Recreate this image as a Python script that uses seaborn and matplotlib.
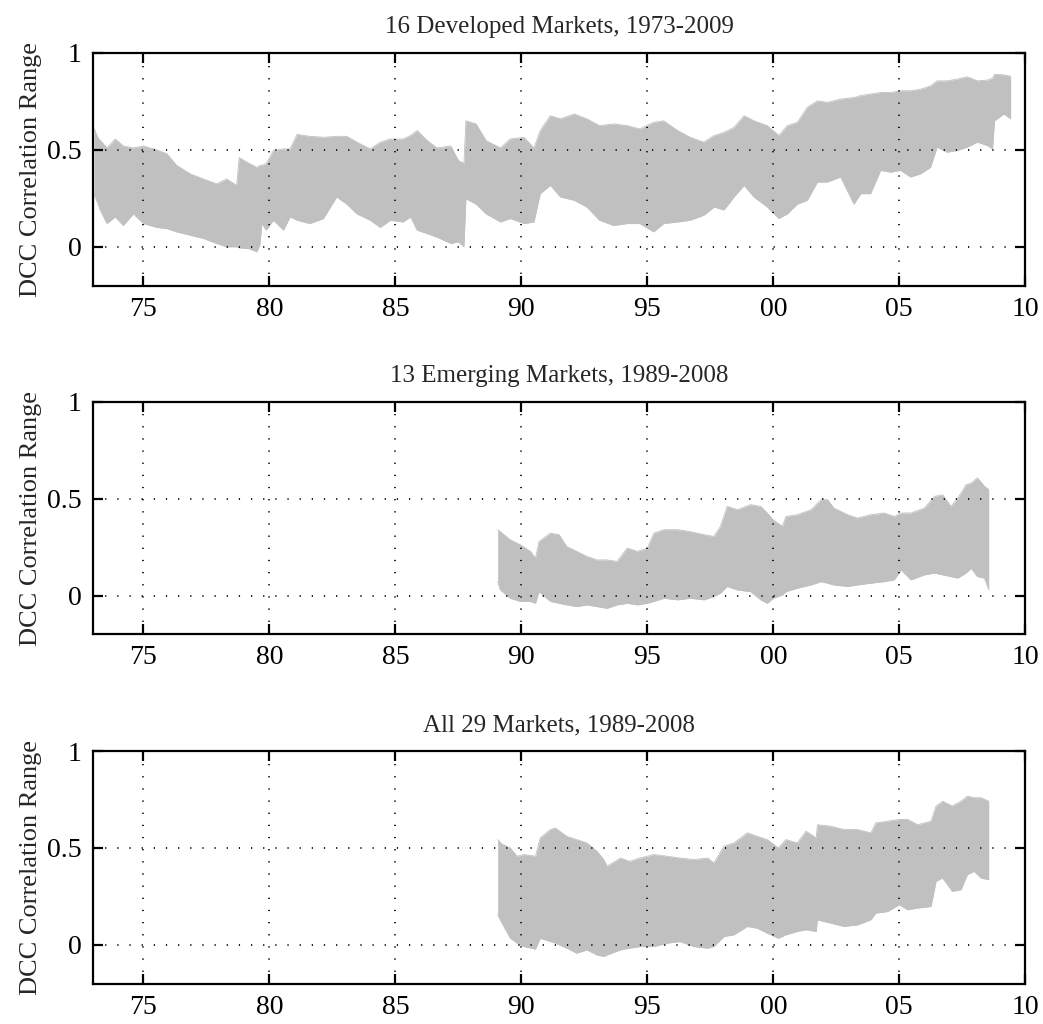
import numpy as np
import pandas as pd
import matplotlib
matplotlib.use("Agg")
import matplotlib.pyplot as plt
import seaborn as sns

# ---- data: upper / lower bounds of pairwise DCC correlations ----
dev_years = [1973.04, 1973.2, 1973.28, 1973.55, 1973.88, 1974.2, 1974.6, 1975.0, 1975.53, 1975.93,
             1976.32, 1976.85, 1977.38, 1977.91, 1978.3, 1978.7, 1978.8, 1979.2, 1979.5, 1979.62,
             1979.7, 1979.87, 1980.16, 1980.56, 1980.82, 1981.1, 1981.6, 1982.14, 1982.67, 1983.07,
             1983.47, 1984.0, 1984.4, 1984.8, 1985.3, 1985.6, 1985.86, 1986.26, 1986.65, 1987.2,
             1987.5, 1987.72, 1987.8, 1988.2, 1988.6, 1989.17, 1989.56, 1990.1, 1990.5, 1990.75,
             1991.15, 1991.55, 1992.1, 1992.6, 1993.1, 1993.66, 1994.2, 1994.7, 1995.25, 1995.65,
             1996.2, 1996.7, 1997.24, 1997.65, 1998.04, 1998.44, 1998.84, 1999.23, 1999.76, 2000.22,
             2000.56, 2000.95, 2001.35, 2001.75, 2002.14, 2002.67, 2003.2, 2003.47, 2003.86, 2004.26,
             2004.66, 2005.05, 2005.45, 2005.85, 2006.24, 2006.5, 2006.9, 2007.3, 2007.7, 2008.1,
             2008.5, 2008.7, 2008.78, 2009.15, 2009.42]
dev_upper = [0.61, 0.56, 0.55, 0.51, 0.556, 0.52, 0.51, 0.52, 0.50, 0.48,
             0.42, 0.377, 0.35, 0.325, 0.35, 0.317, 0.46, 0.43, 0.41, 0.42,
             0.42, 0.43, 0.497, 0.505, 0.505, 0.58, 0.57, 0.565, 0.57, 0.57,
             0.54, 0.505, 0.54, 0.556, 0.556, 0.574, 0.60, 0.548, 0.51, 0.52,
             0.445, 0.43, 0.65, 0.634, 0.548, 0.51, 0.556, 0.565, 0.51, 0.60,
             0.676, 0.66, 0.685, 0.66, 0.625, 0.634, 0.625, 0.608, 0.642, 0.65,
             0.60, 0.565, 0.54, 0.574, 0.59, 0.616, 0.676, 0.65, 0.625, 0.574,
             0.625, 0.642, 0.72, 0.753, 0.745, 0.762, 0.77, 0.78, 0.788, 0.796,
             0.796, 0.805, 0.805, 0.813, 0.83, 0.856, 0.856, 0.865, 0.877, 0.856,
             0.86, 0.87, 0.89, 0.887, 0.88]
dev_lower = [0.27, 0.22, 0.19, 0.12, 0.154, 0.11, 0.17, 0.12, 0.10, 0.094,
             0.077, 0.06, 0.043, 0.017, 0.0, 0.0, -0.005, -0.01, -0.026, 0.01,
             0.12, 0.086, 0.137, 0.086, 0.154, 0.137, 0.12, 0.145, 0.257, 0.22,
             0.17, 0.137, 0.10, 0.137, 0.128, 0.154, 0.086, 0.068, 0.05, 0.017,
             0.026, 0.0, 0.248, 0.22, 0.17, 0.128, 0.146, 0.12, 0.128, 0.274,
             0.317, 0.257, 0.24, 0.205, 0.137, 0.11, 0.12, 0.12, 0.077, 0.12,
             0.128, 0.137, 0.163, 0.205, 0.19, 0.257, 0.317, 0.257, 0.205, 0.146,
             0.17, 0.22, 0.24, 0.334, 0.334, 0.36, 0.22, 0.274, 0.274, 0.394,
             0.385, 0.394, 0.36, 0.377, 0.41, 0.514, 0.488, 0.497, 0.514, 0.54,
             0.522, 0.505, 0.65, 0.685, 0.66]

emg_years = [1989.06, 1989.16, 1989.56, 1989.96, 1990.36, 1990.56, 1990.7, 1991.15, 1991.5, 1991.8,
             1992.2, 1992.6, 1993.0, 1993.4, 1993.8, 1994.2, 1994.6, 1995.0, 1995.26, 1995.66,
             1996.2, 1996.7, 1997.25, 1997.64, 1997.9, 1998.17, 1998.57, 1999.1, 1999.5, 1999.76,
             2000.0, 2000.36, 2000.5, 2000.95, 2001.5, 2001.9, 2002.15, 2002.4, 2002.95, 2003.34,
             2003.87, 2004.4, 2004.8, 2005.07, 2005.46, 2006.0, 2006.4, 2006.72, 2007.05, 2007.32,
             2007.65, 2007.85, 2008.1, 2008.38, 2008.55]
emg_upper = [0.34, 0.33, 0.288, 0.262, 0.228, 0.193, 0.279, 0.322, 0.314, 0.253,
             0.228, 0.202, 0.184, 0.184, 0.176, 0.245, 0.228, 0.245, 0.322, 0.34,
             0.34, 0.33, 0.314, 0.305, 0.357, 0.46, 0.443, 0.469, 0.46, 0.426,
             0.39, 0.357, 0.408, 0.417, 0.443, 0.495, 0.495, 0.452, 0.417, 0.40,
             0.417, 0.426, 0.408, 0.426, 0.426, 0.452, 0.512, 0.52, 0.46, 0.503,
             0.572, 0.58, 0.607, 0.564, 0.547]
emg_lower = [0.072, 0.03, -0.014, -0.03, -0.03, -0.04, 0.02, -0.03, -0.04, -0.048,
             -0.057, -0.048, -0.057, -0.066, -0.048, -0.04, -0.048, -0.04, -0.03, -0.014,
             -0.022, -0.014, -0.022, -0.005, 0.012, 0.047, 0.029, 0.02, -0.022, -0.04,
             -0.014, 0.003, 0.02, 0.038, 0.055, 0.072, 0.064, 0.055, 0.047, 0.055,
             0.064, 0.072, 0.081, 0.133, 0.081, 0.107, 0.116, 0.107, 0.098, 0.09,
             0.116, 0.141, 0.098, 0.09, 0.03]

all_years = [1989.06, 1989.23, 1989.56, 1989.83, 1990.1, 1990.56, 1990.75, 1991.15, 1991.35, 1991.8,
             1992.2, 1992.6, 1993.0, 1993.27, 1993.4, 1993.93, 1994.3, 1994.7, 1995.26, 1995.8,
             1996.3, 1996.85, 1997.4, 1997.64, 1998.04, 1998.44, 1998.97, 1999.36, 1999.76, 2000.2,
             2000.5, 2000.95, 2001.3, 2001.7, 2001.75, 2002.28, 2002.8, 2003.34, 2003.87, 2004.07,
             2004.54, 2005.0, 2005.33, 2005.73, 2006.26, 2006.46, 2006.72, 2007.1, 2007.45, 2007.7,
             2007.97, 2008.24, 2008.55]
all_upper = [0.543, 0.52, 0.50, 0.457, 0.466, 0.457, 0.552, 0.595, 0.603, 0.56,
             0.543, 0.526, 0.483, 0.44, 0.405, 0.448, 0.431, 0.448, 0.466, 0.457,
             0.448, 0.44, 0.448, 0.422, 0.509, 0.526, 0.578, 0.56, 0.543, 0.50,
             0.543, 0.526, 0.586, 0.552, 0.62, 0.612, 0.595, 0.595, 0.578, 0.629,
             0.638, 0.647, 0.647, 0.62, 0.638, 0.716, 0.741, 0.716, 0.741, 0.767,
             0.759, 0.759, 0.741]
all_lower = [0.155, 0.112, 0.034, 0.009, -0.009, -0.022, 0.034, 0.017, 0.009, -0.017,
             -0.043, -0.026, -0.052, -0.06, -0.052, -0.026, -0.017, -0.009, -0.009, 0.009,
             0.017, -0.009, -0.017, -0.009, 0.043, 0.052, 0.095, 0.086, 0.06, 0.034,
             0.052, 0.069, 0.078, 0.069, 0.129, 0.112, 0.095, 0.103, 0.129, 0.164,
             0.172, 0.207, 0.181, 0.19, 0.198, 0.328, 0.345, 0.276, 0.284, 0.362,
             0.379, 0.345, 0.336]

titles = ["16 Developed Markets, 1973-2009",
          "13 Emerging Markets, 1989-2008",
          "All 29 Markets, 1989-2008"]
x_ticks = [1975, 1980, 1985, 1990, 1995, 2000, 2005, 2010]
x_tick_labels = ["75", "80", "85", "90", "95", "00", "05", "10"]
y_ticks = [0, 0.5, 1]
y_tick_labels = ["0", "0.5", "1"]

# ---- style ----
sns.set_style("white")
plt.rcParams["font.family"] = ["Liberation Serif", "DejaVu Serif"]
plt.rcParams["axes.linewidth"] = 1.5

band_color = "#c0c0c0"

fig = plt.figure(figsize=(10.43, 10.24), dpi=100)
left, width = 0.0892, 0.8938
bottoms = [0.7211, 0.3805, 0.0394]
height = 0.2272

series = [(dev_years, dev_upper, dev_lower),
          (emg_years, emg_upper, emg_lower),
          (all_years, all_upper, all_lower)]

for (yrs, up, lo), title, b in zip(series, titles, bottoms):
    ax = fig.add_axes([left, b, width, height])
    df = pd.DataFrame({"year": yrs, "upper": up, "lower": lo})
    ax.fill_between(df["year"], df["lower"], df["upper"], color=band_color,
                    linewidth=0, zorder=1)
    sns.lineplot(data=df, x="year", y="upper", ax=ax, color=band_color,
                 linewidth=0.6, zorder=1)
    sns.lineplot(data=df, x="year", y="lower", ax=ax, color=band_color,
                 linewidth=0.6, zorder=1)

    ax.set_xlim(1973, 2010)
    ax.set_ylim(-0.2, 1)
    ax.set_xticks(x_ticks)
    ax.set_xticklabels(x_tick_labels, fontsize=20)
    ax.set_yticks(y_ticks)
    ax.set_yticklabels(y_tick_labels, fontsize=20)
    ax.set_xlabel("")
    ax.set_ylabel("DCC Correlation Range", fontsize=19, labelpad=4)
    ax.set_title(title, fontsize=18, pad=14)

    ax.tick_params(direction="in", length=7, width=1.6, bottom=True, left=True,
                   top=True, right=True, pad=8, colors="black")
    ax.grid(True, color="black", linewidth=1.25, linestyle=(0, (0.7, 6.3)))
    ax.set_axisbelow(False)
    for sp in ax.spines.values():
        sp.set_visible(True)
        sp.set_color("black")
        sp.set_linewidth(1.6)
        sp.set_zorder(5)

fig.savefig("out.png", dpi=100)
